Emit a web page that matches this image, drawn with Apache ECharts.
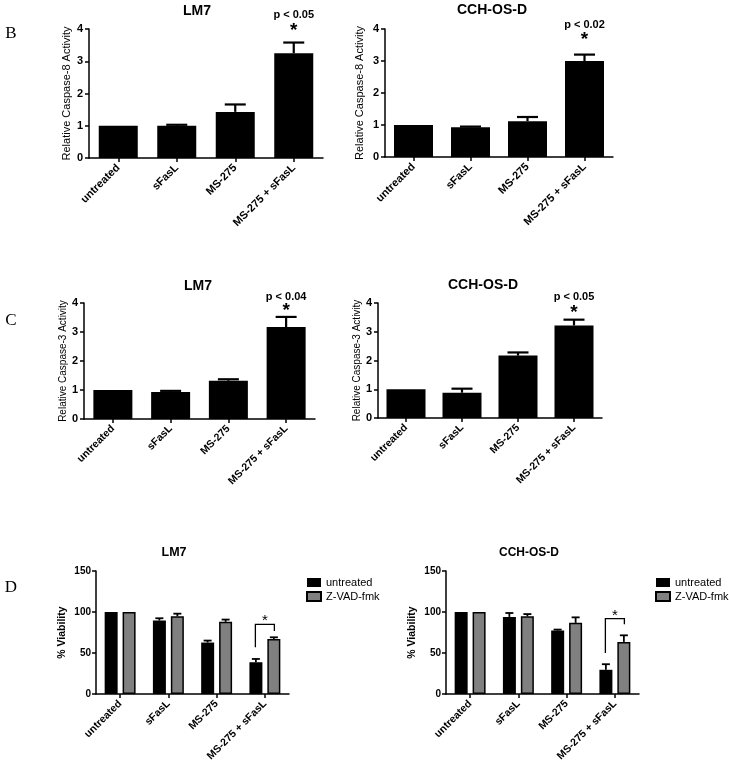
<!DOCTYPE html>
<html>
<head>
<meta charset="utf-8">
<script src="https://cdn.jsdelivr.net/npm/echarts@6/dist/echarts.min.js"></script>
<style>
html,body{margin:0;padding:0;background:#fff;}
#c{width:729px;height:764px;}
</style>
</head>
<body>
<div id="c"></div>
<script>
// ---------- data ----------
const categories = ['untreated', 'sFasL', 'MS-275', 'MS-275 + sFasL'];

// Panel B: Relative Caspase-8 Activity
const casp8_LM7_mean = [1.0, 1.0, 1.43, 3.25];
const casp8_LM7_sem  = [0, 0.03, 0.23, 0.33];
const casp8_CCH_mean = [1.0, 0.93, 1.12, 3.0];
const casp8_CCH_sem  = [0, 0.02, 0.13, 0.2];

// Panel C: Relative Caspase-3 Activity
const casp3_LM7_mean = [1.0, 0.93, 1.32, 3.17];
const casp3_LM7_sem  = [0, 0.04, 0.05, 0.35];
const casp3_CCH_mean = [1.0, 0.88, 2.17, 3.22];
const casp3_CCH_sem  = [0, 0.14, 0.11, 0.2];

// Panel D: % Viability
const viab_LM7_untreated     = [100, 89.6, 62.8, 38.8];
const viab_LM7_untreated_sem = [0, 2.8, 2.4, 4.0];
const viab_LM7_zvad          = [100, 94.8, 88.0, 67.2];
const viab_LM7_zvad_sem      = [0, 3.2, 2.8, 2.0];
const viab_CCH_untreated     = [100, 94.0, 77.6, 29.6];
const viab_CCH_untreated_sem = [0, 4.8, 1.0, 6.8];
const viab_CCH_zvad          = [100, 94.7, 86.8, 63.6];
const viab_CCH_zvad_sem      = [0, 2.8, 6.7, 8.0];

// significance bracket (category index, top, left leg end, right leg end) in data units
const bracket_LM7 = [3, 85, 57, 77];
const bracket_CCH = [3, 92, 50, 85];

const pValues = ['p < 0.05', 'p < 0.02', 'p < 0.04', 'p < 0.05'];
const seriesNames = ['untreated', 'Z-VAD-fmk'];
const yTicksCasp = [0, 4, 1];    // min, max, interval
const yTicksViab = [0, 150, 50];

// ---------- helpers ----------
const FONT = '"Liberation Sans", Arial, sans-serif';
const SERIF = '"Liberation Serif", "Times New Roman", serif';

const grids = [
  {left: 89,  top: 29,  width: 234, height: 129},
  {left: 385, top: 29,  width: 228, height: 128},
  {left: 84,  top: 303, width: 231, height: 116},
  {left: 378, top: 303, width: 224, height: 115},
  {left: 96,  top: 571, width: 193, height: 125},
  {left: 446, top: 571, width: 193, height: 125}
];

const yNames = ['Relative Caspase-8 Activity', 'Relative Caspase-8 Activity',
                'Relative Caspase-3 Activity', 'Relative Caspase-3 Activity',
                '% Viability', '% Viability'];
const yNameGaps = [17, 20, 12, 16, 28, 28];
const yNameSizes = [11, 11, 10, 10, 10.5, 10.5];
const yNameWeights = ['normal', 'normal', 'normal', 'normal', 'bold', 'bold'];

const xAxes = grids.map((g, i) => ({
  type: 'category', gridIndex: i, data: categories,
  axisLine: {show: true, lineStyle: {color: '#000', width: 1.5}},
  axisTick: {show: true, alignWithLabel: true, length: 4, lineStyle: {color: '#000', width: 1.5}},
  axisLabel: {interval: 0, rotate: 45, margin: 8, color: '#000', fontFamily: FONT,
              fontWeight: 'bold', fontSize: i < 2 ? 11 : 10.5},
  splitLine: {show: false}
}));

const yAxes = grids.map((g, i) => {
  const t = i < 4 ? yTicksCasp : yTicksViab;
  return {
    type: 'value', gridIndex: i, min: t[0], max: t[1], interval: t[2],
    name: yNames[i], nameLocation: 'middle', nameGap: yNameGaps[i], nameRotate: 90,
    nameTextStyle: {fontFamily: FONT, fontSize: yNameSizes[i], fontWeight: yNameWeights[i], color: '#000'},
    axisLine: {show: true, lineStyle: {color: '#000', width: 1.5}},
    axisTick: {show: true, length: 4, lineStyle: {color: '#000', width: 1.5}},
    axisLabel: {margin: i < 4 ? 6 : 5, color: '#000', fontFamily: FONT, fontWeight: 'bold', fontSize: i < 4 ? 11 : 10},
    splitLine: {show: false}
  };
});

function errSeries(idx, mean, sem, offsetPx, capW, lw) {
  return {
    type: 'custom', xAxisIndex: idx, yAxisIndex: idx, z: 5, silent: true,
    data: mean.map((m, k) => [k, m, m + sem[k], sem[k]]),
    renderItem: function (params, api) {
      if (api.value(3) <= 0) return null;
      const p0 = api.coord([api.value(0), api.value(1)]);
      const p1 = api.coord([api.value(0), api.value(2)]);
      const cx = p0[0] + offsetPx;
      const st = {stroke: '#000', lineWidth: lw};
      return {type: 'group', children: [
        {type: 'line', shape: {x1: cx, y1: p0[1], x2: cx, y2: p1[1]}, style: st},
        {type: 'line', shape: {x1: cx - capW / 2, y1: p1[1], x2: cx + capW / 2, y2: p1[1]}, style: st}
      ]};
    }
  };
}

function annotSeries(idx, mean, sem, ptext, pOff, sOff) {
  const k = 3;
  return {
    type: 'custom', xAxisIndex: idx, yAxisIndex: idx, z: 6, silent: true,
    data: [[k, mean[k] + sem[k]]],
    renderItem: function (params, api) {
      const p = api.coord([api.value(0), api.value(1)]);
      return {type: 'group', children: [
        {type: 'text', x: p[0], y: p[1] + pOff,
         style: {text: ptext, fill: '#000', font: 'bold 11px ' + FONT, align: 'center', verticalAlign: 'middle'}},
        {type: 'text', x: p[0], y: p[1] + sOff,
         style: {text: '*', fill: '#000', font: 'bold 19px ' + FONT, align: 'center', verticalAlign: 'middle'}}
      ]};
    }
  };
}

function bracketSeries(idx, br, half) {
  return {
    type: 'custom', xAxisIndex: idx, yAxisIndex: idx, z: 6, silent: true,
    data: [br],
    renderItem: function (params, api) {
      const top = api.coord([api.value(0), api.value(1)]);
      const l = api.coord([api.value(0), api.value(2)]);
      const r = api.coord([api.value(0), api.value(3)]);
      const xl = top[0] - half, xr = top[0] + half;
      return {type: 'group', children: [
        {type: 'polyline', shape: {points: [[xl, l[1]], [xl, top[1]], [xr, top[1]], [xr, r[1]]]},
         style: {stroke: '#000', lineWidth: 1.3, fill: null}},
        {type: 'text', x: top[0], y: top[1] - 3,
         style: {text: '*', fill: '#000', font: '15px ' + FONT, align: 'center', verticalAlign: 'middle'}}
      ]};
    }
  };
}

function barSeries(idx, data, color, name, width, gap) {
  const s = {
    type: 'bar', xAxisIndex: idx, yAxisIndex: idx, data: data, barWidth: width,
    itemStyle: {color: color, borderColor: '#000', borderWidth: color === '#000' ? 0 : 1.5},
    z: 2
  };
  if (name) s.name = name;
  if (gap !== undefined) s.barGap = gap;
  return s;
}

const series = [];
const singlePanels = [
  [0, casp8_LM7_mean, casp8_LM7_sem, pValues[0], -28, -12],
  [1, casp8_CCH_mean, casp8_CCH_sem, pValues[1], -30, -15],
  [2, casp3_LM7_mean, casp3_LM7_sem, pValues[2], -20, -6],
  [3, casp3_CCH_mean, casp3_CCH_sem, pValues[3], -23, -7]
];
singlePanels.forEach(p => {
  series.push(barSeries(p[0], p[1], '#000', null, 39));
  series.push(errSeries(p[0], p[1], p[2], 0, 21, 2.2));
  series.push(annotSeries(p[0], p[1], p[2], p[3], p[4], p[5]));
});

const GRAY = '#808080';
const dPanels = [
  [4, viab_LM7_untreated, viab_LM7_untreated_sem, viab_LM7_zvad, viab_LM7_zvad_sem, bracket_LM7],
  [5, viab_CCH_untreated, viab_CCH_untreated_sem, viab_CCH_zvad, viab_CCH_zvad_sem, bracket_CCH]
];
dPanels.forEach(p => {
  series.push(barSeries(p[0], p[1], '#000', seriesNames[0], 13, '38%'));
  series.push(barSeries(p[0], p[3], GRAY, seriesNames[1], 13, '38%'));
  series.push(errSeries(p[0], p[1], p[2], -9, 8, 1.8));
  series.push(errSeries(p[0], p[3], p[4], 9, 8, 1.8));
  series.push(bracketSeries(p[0], p[5], 9.5));
});

const titleText = (txt, x, y, size) => ({
  type: 'text', x: x, y: y,
  style: {text: txt, fill: '#000', font: 'bold ' + size + 'px ' + FONT, align: 'center', verticalAlign: 'middle'}
});
const letter = (txt, x, y) => ({
  type: 'text', x: x, y: y,
  style: {text: txt, fill: '#000', font: '17px ' + SERIF, align: 'center', verticalAlign: 'middle'}
});

const legendCfg = (left) => ({
  data: seriesNames, left: left, top: 572, orient: 'vertical',
  icon: 'rect', itemWidth: 14, itemHeight: 9, itemGap: 3,
  selectedMode: false,
  textStyle: {fontFamily: FONT, fontSize: 11, color: '#000'}
});

const option = {
  animation: false,
  backgroundColor: '#fff',
  grid: grids,
  xAxis: xAxes,
  yAxis: yAxes,
  legend: [legendCfg(301), legendCfg(650)],
  series: series,
  graphic: [
    titleText('LM7', 197, 11, 14),
    titleText('CCH-OS-D', 492, 10, 14),
    titleText('LM7', 198, 286, 14),
    titleText('CCH-OS-D', 483, 285, 14),
    titleText('LM7', 174, 553, 12.5),
    titleText('CCH-OS-D', 529, 553, 12),
    letter('B', 11, 34),
    letter('C', 11, 321),
    letter('D', 11, 588)
  ]
};

const chart = echarts.init(document.getElementById('c'), null, {renderer: 'canvas'});
chart.setOption(option);
</script>
</body>
</html>
